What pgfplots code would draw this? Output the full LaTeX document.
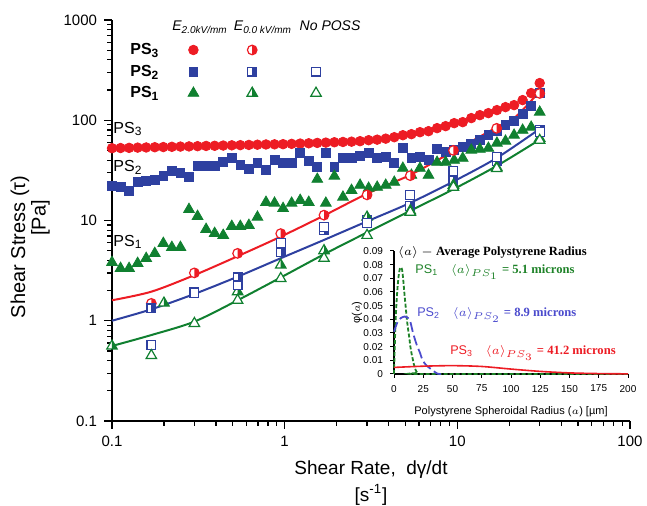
\documentclass[border=0pt]{standalone}
\usepackage{fontspec}
\setmainfont{Liberation Sans}
\newfontfamily\serifft{Liberation Serif}
\usepackage{pgfplots}
\pgfplotsset{compat=1.18}

\definecolor{cred}{RGB}{237,28,36}
\definecolor{cblue}{RGB}{46,64,160}
\definecolor{cgreen}{RGB}{16,128,48}
\definecolor{iblue}{RGB}{75,75,205}
\definecolor{igreen}{RGB}{30,130,40}

% outlines used by the half filled marks
\newcommand{\circpath}{\pgfpathcircle{\pgfpointorigin}{\pgfplotmarksize}}
\newcommand{\sqpath}{\pgfpathrectanglecorners{\pgfqpoint{-\pgfplotmarksize}{-\pgfplotmarksize}}{\pgfqpoint{\pgfplotmarksize}{\pgfplotmarksize}}}
\newcommand{\tripath}{\pgfpathmoveto{\pgfqpoint{0pt}{\pgfplotmarksize}}%
  \pgfpathlineto{\pgfqpoint{-0.866\pgfplotmarksize}{-0.5\pgfplotmarksize}}%
  \pgfpathlineto{\pgfqpoint{0.866\pgfplotmarksize}{-0.5\pgfplotmarksize}}\pgfpathclose}

\pgfdeclareplotmark{halfo}{%
  \begin{pgfscope}\pgfsetfillcolor{white}\circpath\pgfusepathqfill\end{pgfscope}%
  \pgfpathmoveto{\pgfqpoint{0pt}{-\pgfplotmarksize}}%
  \pgfpatharc{-90}{90}{\pgfplotmarksize}%
  \pgfpathclose\pgfusepathqfill
  \circpath\pgfusepathqstroke}
\pgfdeclareplotmark{halfsq}{%
  \begin{pgfscope}\pgfsetfillcolor{white}\sqpath\pgfusepathqfill\end{pgfscope}%
  \pgfpathrectanglecorners{\pgfqpoint{0pt}{-\pgfplotmarksize}}{\pgfqpoint{\pgfplotmarksize}{\pgfplotmarksize}}\pgfusepathqfill
  \sqpath\pgfusepathqstroke}
\pgfdeclareplotmark{halftri}{%
  \begin{pgfscope}\pgfsetfillcolor{white}\tripath\pgfusepathqfill\end{pgfscope}%
  \pgfpathmoveto{\pgfqpoint{0pt}{\pgfplotmarksize}}%
  \pgfpathlineto{\pgfqpoint{0pt}{-0.5\pgfplotmarksize}}%
  \pgfpathlineto{\pgfqpoint{0.866\pgfplotmarksize}{-0.5\pgfplotmarksize}}%
  \pgfpathclose\pgfusepathqfill
  \tripath\pgfusepathqstroke}

\pgfplotsset{
  legmark/.style={only marks,
    legend image code/.code={\path (-8.5pt,0pt) (8.5pt,0pt);
      \draw[##1] plot coordinates {(0pt,0pt)};}},
}

\begin{document}
\begin{tikzpicture}
\useasboundingbox (-56pt,-42.5pt) rectangle (267.5pt,210.5pt);

\begin{axis}[
  at={(0pt,0pt)}, anchor=south west,
  scale only axis, width=259pt, height=200.5pt,
  xmode=log, ymode=log,
  xmin=0.1, xmax=100, ymin=0.1, ymax=1000,
  axis x line*=bottom, axis y line*=left,
  axis line style={line width=0.8pt},
  tick align=outside,
  major tick length=4pt, minor tick length=2.4pt,
  every tick/.style={black, line width=0.6pt},
  log ticks with fixed point,
  /pgf/number format/1000 sep={},
  /pgf/number format/assume math mode=true,
  tick label style={font=\fontsize{7.5}{9}\selectfont},
  xlabel={Shear Rate,\ \ dγ/dt\\{[}s\textsuperscript{-1}]},
  ylabel={Shear Stress (τ)\\\hspace*{29pt}{[}Pa]},
  xlabel style={font=\fontsize{9.5}{13.5}\selectfont, align=center, inner sep=0pt,
    at={(axis description cs:0.5,-0.0973)}, anchor=north},
  ylabel style={font=\fontsize{10}{9}\selectfont, align=center, inner sep=0pt,
    at={(axis description cs:-0.1193,0.434)}, anchor=south},
  clip=false,
  legend columns=3,
  legend style={draw=none, fill=none, inner sep=0pt, outer sep=0pt,
    row sep=0pt, column sep=0pt,
    at={(rel axis cs:0.1236,0.9521)}, anchor=north west,
    nodes={inner sep=0pt, text height=5.4pt, text depth=5.4pt}},
]

% PS3, E = 2.0 kV/mm
\addplot[forget plot, only marks, mark=*, mark size=2.4pt, cred] coordinates {
(0.1,52.6) (0.1121,52.8) (0.1256,53.0) (0.1408,53.3) (0.1578,53.5)
(0.1769,53.8) (0.1983,54.0) (0.2222,54.3) (0.2491,54.6) (0.2792,54.8)
(0.3130,55.1) (0.3508,55.4) (0.3932,55.6) (0.4407,55.9) (0.4940,56.2)
(0.5537,56.4) (0.6206,56.7) (0.6956,57.0) (0.7796,57.3) (0.8738,57.5)
(0.9790,57.7) (1.0973,58.1) (1.2300,58.5) (1.3787,58.9) (1.5452,59.4)
(1.7320,59.8) (1.9413,60.3) (2.1759,60.7) (2.4389,61.1) (2.7336,61.8)
(3.0639,63.2) (3.4342,64.0) (3.8492,65.5) (4.3144,67.7) (4.8358,70.9)
(5.4203,72.6) (6.0753,76.0) (6.8095,77.8) (7.6324,83.4) (8.5548,87.3)
(9.5886,93.5) (10.747,95.7) (12.046,105) (13.501,112.4) (15.133,117.7)
(16.962,126.2) (19.012,135.1) (21.309,141.5) (23.884,158.8) (26.771,186.5)
(30.0,234.8)};

% PS2, E = 2.0 kV/mm
\addplot[forget plot, only marks, mark=square*, mark size=2.2pt, cblue] coordinates {
(0.1,22.0) (0.1121,21.5) (0.1256,19.6) (0.1408,24.1) (0.1578,24.6)
(0.1769,25.2) (0.1983,27.7) (0.2222,31.0) (0.2491,29.6) (0.2792,27.0)
(0.3130,34.8) (0.3508,34.8) (0.3932,34.8) (0.4407,38.1) (0.4940,41.8)
(0.5537,35.6) (0.6206,32.5) (0.6956,37.3) (0.7796,31.7) (0.8738,39.9)
(0.9790,37.3) (1.0973,37.3) (1.2300,46.9) (1.3787,39.0) (1.5452,34.0)
(1.7320,46.9) (1.9413,34.0) (2.1759,41.8) (2.4389,41.8) (2.7336,43.8)
(3.0639,46.9) (3.4342,41.8) (3.8492,42.8) (4.3144,37.3) (4.8358,52.6)
(5.4203,41.8) (6.0753,42.8) (6.8095,39.9) (7.6324,51.4) (8.5548,48.0)
(9.5886,50.3) (10.747,53.9) (12.046,57.7) (13.501,63.3) (15.133,71.0)
(16.962,77.9) (19.012,89.4) (21.309,98.0) (23.884,115.1) (26.771,138.4)
(30.0,186.6)};

% PS1, E = 2.0 kV/mm
\addplot[forget plot, only marks, mark=triangle*, mark size=3.1pt, cgreen] coordinates {
(0.1,3.82) (0.1121,3.33) (0.1256,3.33) (0.1408,3.74) (0.1578,4.19)
(0.1769,4.70) (0.1983,5.92) (0.2222,5.40) (0.2491,5.40) (0.2792,12.9)
(0.3130,11.0) (0.3508,8.17) (0.3932,7.45) (0.4407,7.12) (0.4940,8.75)
(0.5537,8.75) (0.6206,8.96) (0.6956,10.8) (0.7796,15.2) (0.8738,14.9)
(0.9790,13.2) (1.0973,14.9) (1.2300,15.9) (1.3787,15.2) (1.5452,25.8)
(1.7320,14.9) (1.9413,27.7) (2.1759,17.1) (2.4389,20.0) (2.7336,22.5)
(3.0639,21.0) (3.4342,21.5) (3.8492,22.5) (4.3144,24.1) (4.8358,33.2)
(5.4203,28.3) (6.0753,33.2) (6.8095,28.3) (7.6324,38.1) (8.5548,38.1)
(9.5886,39.9) (10.747,41.8) (12.046,50.3) (13.501,51.4) (15.133,52.6)
(16.962,59.1) (19.012,61.9) (21.309,71.0) (23.884,79.6) (26.771,85.3)
(30.0,120.5)};

% fitted curves
\addplot[forget plot, smooth, cred, line width=1pt] coordinates {
(0.1,1.6) (0.169,1.95) (0.3,2.85) (0.534,4.4) (0.949,6.9) (1.69,11.2)
(3.0,18.5) (5.34,28.5) (9.49,49) (16.9,85) (22,110) (30,195)};
\addplot[forget plot, smooth, cblue, line width=1pt] coordinates {
(0.1,1.0) (0.169,1.3) (0.3,1.85) (0.534,2.75) (0.949,4.2) (1.69,6.4)
(3.0,9.8) (5.34,15) (9.49,24.5) (16.9,42) (30,82)};
\addplot[forget plot, smooth, cgreen, line width=1pt] coordinates {
(0.1,0.56) (0.169,0.72) (0.3,0.98) (0.534,1.6) (0.949,2.7) (1.69,4.6)
(3.0,7.6) (5.34,12.5) (9.49,20.5) (16.9,35) (30,64)};

% E = 0.0 kV/mm
\addplot[forget plot, only marks, mark=halfo, mark size=2.4pt,
  mark options={draw=cred, fill=cred, line width=0.6pt}] coordinates {
(0.169,1.49) (0.300,3.0) (0.534,4.7) (0.949,7.4) (1.69,11.3) (3.0,18)
(5.34,28) (9.49,50) (16.9,83) (30,185)};
\addplot[forget plot, only marks, mark=halfsq, mark size=2.2pt,
  mark options={draw=cblue, fill=cblue, line width=0.6pt}] coordinates {
(0.169,1.33) (0.300,1.95) (0.534,2.7) (0.949,4.8) (1.69,8.0) (3.0,10.2)
(5.34,14) (9.49,25) (16.9,39) (30,80)};
\addplot[forget plot, only marks, mark=halftri, mark size=3pt,
  mark options={draw=cgreen, fill=cgreen, line width=0.6pt}] coordinates {
(0.1,0.56) (0.2,1.5) (0.534,1.95) (0.949,3.6) (1.69,5.0) (3.0,10.8)
(5.34,12.5) (9.49,22.5) (16.9,34) (30,66)};

% no POSS
\addplot[forget plot, only marks, mark=square*, mark size=2.2pt,
  mark options={draw=cblue, fill=white, line width=0.6pt}] coordinates {
(0.169,0.57) (0.300,1.9) (0.534,2.25) (0.949,6.0) (1.69,8.6) (3.0,9.5)
(5.34,18) (9.49,31) (16.9,43) (30,76)};
\addplot[forget plot, only marks, mark=triangle*, mark size=3pt,
  mark options={draw=cgreen, fill=white, line width=0.6pt}] coordinates {
(0.169,0.45) (0.300,0.94) (0.534,1.6) (0.949,2.64) (1.69,4.2) (3.0,7.1)
(5.34,12.1) (9.49,21.5) (16.9,33) (30,63)};

% legend table: one row per sample, one column per condition
\addlegendimage{legmark, mark=*, mark size=2.4pt, cred}
\addlegendentry{\hbox to 12pt{}}
\addlegendimage{legmark, mark=halfo, mark size=2.4pt, mark options={draw=cred, fill=cred, line width=0.6pt}}
\addlegendentry{\hbox to 14.5pt{}}
\addlegendimage{empty legend}
\addlegendentry{\hbox{}}
\addlegendimage{legmark, mark=square*, mark size=2.2pt, cblue}
\addlegendentry{\hbox to 12pt{}}
\addlegendimage{legmark, mark=halfsq, mark size=2.2pt, mark options={draw=cblue, fill=cblue, line width=0.6pt}}
\addlegendentry{\hbox to 14.5pt{}}
\addlegendimage{legmark, mark=square*, mark size=2.2pt, mark options={draw=cblue, fill=white, line width=0.6pt}}
\addlegendentry{\hbox{}}
\addlegendimage{legmark, mark=triangle*, mark size=3.1pt, cgreen}
\addlegendentry{\hbox to 12pt{}}
\addlegendimage{legmark, mark=halftri, mark size=3pt, mark options={draw=cgreen, fill=cgreen, line width=0.6pt}}
\addlegendentry{\hbox to 14.5pt{}}
\addlegendimage{legmark, mark=triangle*, mark size=3pt, mark options={draw=cgreen, fill=white, line width=0.6pt}}
\addlegendentry{\hbox{}}

\begin{scope}[every node/.style={inner sep=0pt}]
\node[anchor=base, font=\itshape\fontsize{7}{8}\selectfont] at (rel axis cs:0.170,0.9726) {E\textsubscript{2.0kV/mm}};
\node[anchor=base, font=\itshape\fontsize{7}{8}\selectfont] at (rel axis cs:0.2915,0.9726) {E\textsubscript{0.0 kV/mm}};
\node[anchor=base, font=\itshape\fontsize{7}{8}\selectfont] at (rel axis cs:0.421,0.9726) {No POSS};
\node[anchor=base west, font=\bfseries\fontsize{8}{9}\selectfont] at (rel axis cs:0.0347,0.9127) {PS\textsubscript{3}};
\node[anchor=base west, font=\bfseries\fontsize{8}{9}\selectfont] at (rel axis cs:0.0347,0.8579) {PS\textsubscript{2}};
\node[anchor=base west, font=\bfseries\fontsize{8}{9}\selectfont] at (rel axis cs:0.0347,0.8055) {PS\textsubscript{1}};
\node[anchor=base west, font=\fontsize{8}{9}\selectfont] at (rel axis cs:0.002,0.718) {PS\textsubscript{3}};
\node[anchor=base west, font=\fontsize{8}{9}\selectfont] at (rel axis cs:0.002,0.623) {PS\textsubscript{2}};
\node[anchor=base west, font=\fontsize{8}{9}\selectfont] at (rel axis cs:0.002,0.436) {PS\textsubscript{1}};
\end{scope}
\end{axis}

% inset: size distributions
\begin{axis}[
  at={(141pt,23.5pt)}, anchor=south west,
  scale only axis, width=117pt, height=61.5pt,
  xmin=0, xmax=200, ymin=0, ymax=0.09,
  axis x line*=bottom, axis y line*=left,
  axis line style={line width=0.7pt},
  tick align=outside, major tick length=2pt,
  every tick/.style={black, line width=0.5pt},
  xtick={0,25,50,75,100,125,150,175,200},
  ytick={0,0.01,0.02,0.03,0.04,0.05,0.06,0.07,0.08,0.09},
  scaled y ticks=false,
  yticklabel style={/pgf/number format/fixed, /pgf/number format/precision=2},
  /pgf/number format/assume math mode=true,
  tick label style={font=\fontsize{5}{6}\selectfont},
  xlabel={Polystyrene Spheroidal Radius ($a$) [µm]},
  ylabel={φ($a$)},
  label style={font=\fontsize{5.5}{6.5}\selectfont},
  xlabel style={at={(axis description cs:0.5,-0.21)}, anchor=north},
  ylabel style={at={(axis description cs:-0.158,0.5)}, anchor=center},
  clip=false,
]
\addplot[igreen, line width=0.9pt, dash pattern=on 2pt off 1pt, smooth, tension=0.4] coordinates {
(0,0) (1,0.03) (2,0.05) (3,0.063) (4,0.072) (5,0.077) (6,0.078) (7,0.076)
(8,0.068) (9,0.058) (10,0.049) (11,0.04) (12,0.033) (13,0.027) (14,0.02)
(15,0.015) (16,0.011) (17,0.007) (18,0.004) (19,0.002) (20,0.0008) (22,0) (200,0)};
\addplot[iblue, line width=0.9pt, dash pattern=on 5pt off 2pt, smooth, tension=0.4] coordinates {
(0,0.031) (3,0.038) (6,0.041) (9,0.042) (12,0.041) (14,0.038) (16,0.031)
(18,0.025) (20,0.020) (22,0.016) (24,0.011) (26,0.008) (28,0.006) (31,0.004)
(34,0.002) (37,0.0003) (40,0)};
\addplot[cred, line width=0.8pt, smooth] coordinates {
(0,0.0048) (25,0.0057) (50,0.0061) (75,0.0055) (100,0.0036) (125,0.0019)
(150,0.0008) (175,0.0003) (200,0.0001)};

\begin{scope}[every node/.style={inner sep=0pt, anchor=west}]
\node[font=\serifft\bfseries\fontsize{6.3}{7}\selectfont] at (axis cs:3,0.089)
  {$\langle a\rangle$ $-$ Average Polystyrene Radius};
\node[text=igreen, font=\serifft\bfseries\fontsize{6.3}{7}\selectfont] at (axis cs:18,0.0745)
  {{\rmfamily\mdseries PS\textsubscript{1}}\quad$\langle a\rangle_{PS_1}$ = 5.1 microns};
\node[text=iblue, font=\serifft\bfseries\fontsize{6.3}{7}\selectfont] at (axis cs:19.6,0.043)
  {{\rmfamily\mdseries PS\textsubscript{2}}\quad$\langle a\rangle_{PS_2}$ = 8.9 microns};
\node[text=cred, font=\serifft\bfseries\fontsize{6.3}{7}\selectfont] at (axis cs:47.8,0.0153)
  {{\rmfamily\mdseries PS\textsubscript{3}}\quad$\langle a\rangle_{PS_3}$ = 41.2 microns};
\end{scope}
\end{axis}
\end{tikzpicture}
\end{document}
